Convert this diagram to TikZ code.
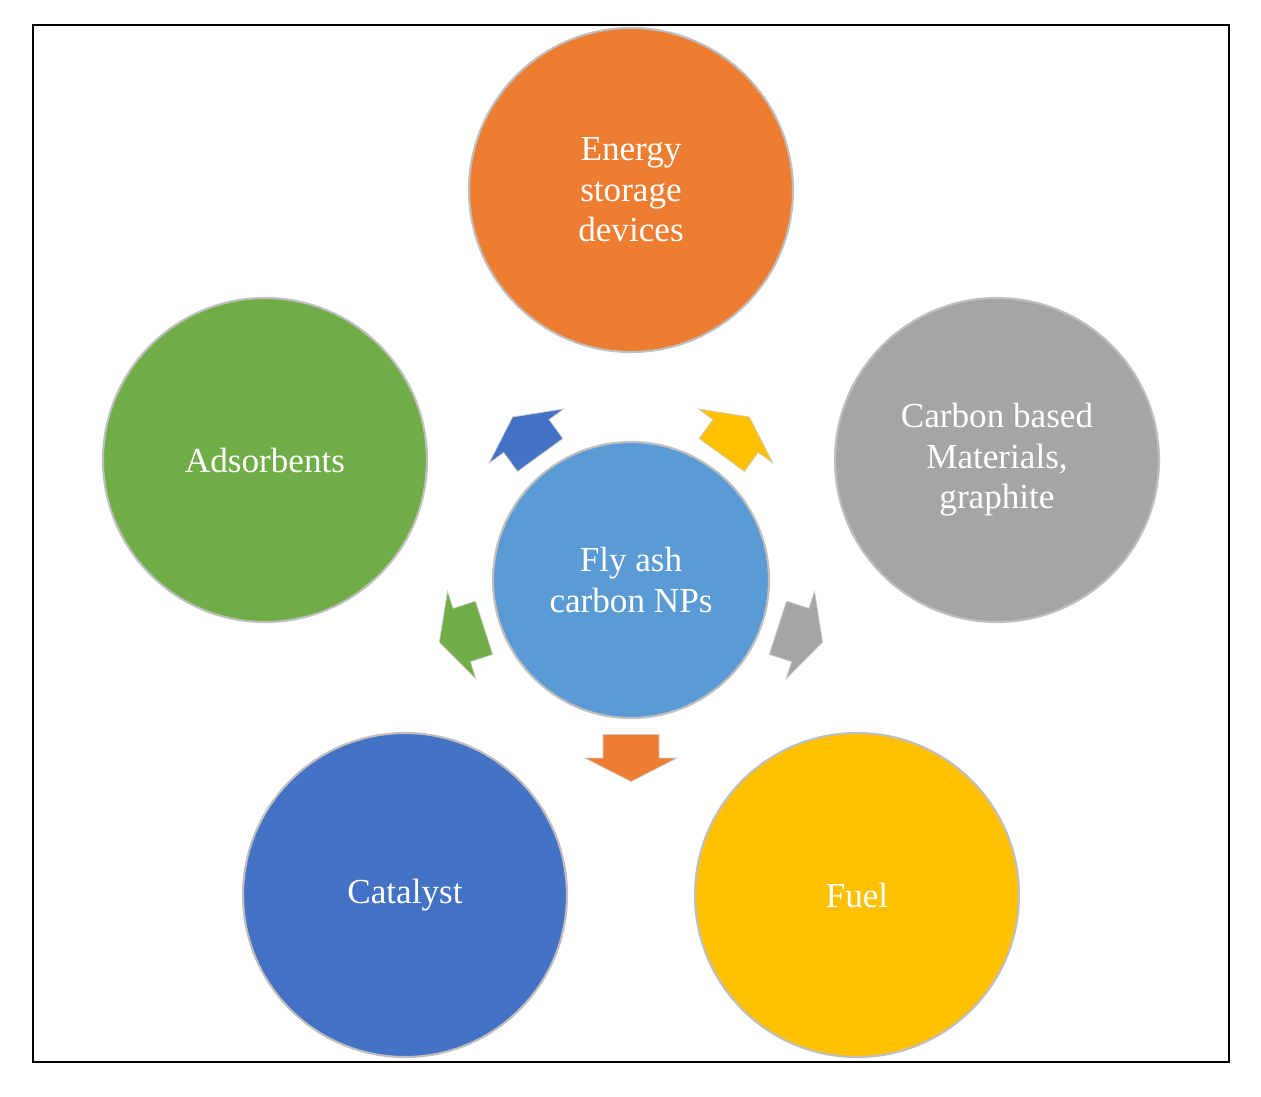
\documentclass[tikz,border=0pt]{standalone}
\usepackage{fontspec}
\setmainfont{Liberation Serif}
\definecolor{corange}{HTML}{ED7D31}
\definecolor{cgreen}{HTML}{70AD47}
\definecolor{cgray}{HTML}{A5A5A5}
\definecolor{cblue}{HTML}{4472C4}
\definecolor{cyellow}{HTML}{FFC000}
\definecolor{clight}{HTML}{5B9BD5}
\begin{document}
\begin{tikzpicture}[x=0.02cm,y=-0.02cm,
  circ/.style={circle,draw=black!25,line width=1.2pt,text=white,align=center,
    font=\fontsize{20}{23}\selectfont,inner sep=0pt},
  big/.style={circ,minimum size=324*0.02cm},
  arr/.style={draw=black!20,line width=0.4pt}]
\useasboundingbox (0,0) rectangle (1261,1096);
\draw[line width=1pt] (33,25) rectangle (1229,1062);
\node[circ,fill=clight,minimum size=276*0.02cm] (c) at (631,580) {Fly ash\\carbon NPs};
\node[big,fill=corange] (t) at (631,190) {Energy\\storage\\devices};
\node[big,fill=cgreen] (l) at (265,460) {Adsorbents};
\node[big,fill=cgray] (r) at (997,460) {Carbon based\\Materials,\\graphite};
\node[big,fill=cblue] (bl) at (405,895) {Catalyst};
\node[big,fill=cyellow] (br) at (857,895) {Fuel};
\foreach \ang/\col in {90/corange,18/cgray,-54/cyellow,-126/cblue,162/cgreen}{
  \begin{scope}[shift={(c.center)},rotate=-\ang,shift={(178,0)}]
    \fill[\col,arr] (-23.5,-28) -- (0,-28) -- (0,-46) -- (23.5,0) -- (0,46) -- (0,28) -- (-23.5,28) -- cycle;
  \end{scope}}
\end{tikzpicture}
\end{document}
